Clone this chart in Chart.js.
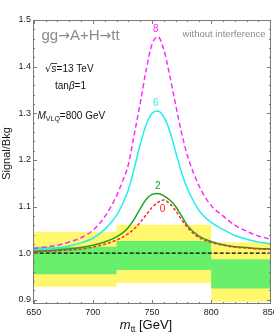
<!DOCTYPE html>
<html><head><meta charset="utf-8">
<script src="https://cdn.jsdelivr.net/npm/chart.js@4.4.1/dist/chart.umd.min.js"></script>
<style>html,body{margin:0;padding:0;background:#fff;}canvas{display:block;}</style>
</head><body>
<canvas id="c" width="274" height="335"></canvas>
<script>
// ---- data ----
const massGeV   = [650,660,670,680,690,700,710,720,725,730,735,740,745,750,755,760,765,770,775,780,790,800,810,820,830,840,850];
const ratioTan0 = [1.003,1.004,1.005,1.007,1.009,1.013,1.019,1.028,1.034,1.042,1.052,1.066,1.082,1.098,1.109,1.114,1.106,1.091,1.072,1.055,1.033,1.023,1.017,1.013,1.011,1.009,1.008];
const ratioTan2 = [1.004,1.005,1.007,1.009,1.012,1.017,1.024,1.035,1.043,1.055,1.073,1.095,1.115,1.126,1.128,1.123,1.114,1.100,1.080,1.059,1.036,1.025,1.018,1.014,1.012,1.010,1.009];
const ratioTan6 = [1.007,1.009,1.011,1.016,1.022,1.032,1.051,1.081,1.105,1.136,1.182,1.233,1.275,1.300,1.305,1.292,1.262,1.217,1.173,1.138,1.091,1.066,1.051,1.038,1.030,1.024,1.020];
const ratioTan8 = [1.010,1.013,1.017,1.024,1.033,1.049,1.078,1.123,1.154,1.190,1.255,1.321,1.392,1.448,1.464,1.436,1.381,1.318,1.258,1.209,1.143,1.102,1.080,1.060,1.047,1.037,1.030];
const curveNames = ['0','2','6','8'];

const binEdges    = [650,720,800,850];
const yellowUpper = [1.046,1.061,1.023];
const greenUpper  = [1.014,1.026,0.987];
const greenLower  = [0.955,0.964,0.924];
const yellowLower = [0.928,0.936,0.896];
const referenceLevel = 1.0;

const xTicks = [650,700,750,800,850];
const yTicks = [0.9,1.0,1.1,1.2,1.3,1.4,1.5];

// ---- helpers ----
const FONT = '"Liberation Sans", Arial, sans-serif';
const SYM = '"DejaVu Sans", sans-serif';
function stepPoints(vals){
  const pts=[];
  vals.forEach((v,i)=>{pts.push({x:binEdges[i],y:v});pts.push({x:binEdges[i+1],y:v});});
  return pts;
}
function curvePoints(vals){ return massGeV.map((m,i)=>({x:m,y:vals[i]})); }

const YELLOW='#fff86c', GREEN='#68f06c';
const curveStyles = [
  {color:'#ff2a2a', dash:[3,2]},
  {color:'#22a022', dash:[]},
  {color:'#22eeee', dash:[]},
  {color:'#ff2aff', dash:[5,3]}
];
const curveSeries=[ratioTan0,ratioTan2,ratioTan6,ratioTan8];
// label anchors (data coordinates)
const labelAnchors=[{x:759,y:1.0944},{x:754.8,y:1.1443},{x:753.1,y:1.321},{x:753.1,y:1.4807}];

const datasets=[
  {data:stepPoints(yellowUpper),fill:'+1',backgroundColor:YELLOW,borderWidth:0,pointRadius:0,order:5},
  {data:stepPoints(yellowLower),fill:false,borderWidth:0,pointRadius:0,order:5},
  {data:stepPoints(greenUpper),fill:'+1',backgroundColor:GREEN,borderWidth:0,pointRadius:0,order:4},
  {data:stepPoints(greenLower),fill:false,borderWidth:0,pointRadius:0,order:4},
  {data:[{x:binEdges[0],y:referenceLevel},{x:binEdges[binEdges.length-1],y:referenceLevel}],borderColor:'#000',borderWidth:1.2,borderDash:[4,2],pointRadius:0,fill:false,order:3}
];
curveSeries.forEach((s,i)=>{
  datasets.push({data:curvePoints(s),borderColor:curveStyles[i].color,borderDash:curveStyles[i].dash,borderWidth:1.5,pointRadius:0,fill:false,cubicInterpolationMode:'monotone',order:1});
});

function richText(ctx,x,y,parts,align){
  let w=0;
  parts.forEach(p=>{ctx.font=p.font;w+=ctx.measureText(p.text).width;});
  let cx = align==='right'? x-w : align==='center'? x-w/2 : x;
  parts.forEach(p=>{
    ctx.font=p.font; ctx.fillStyle=p.color||'#111';
    ctx.fillText(p.text,cx,y+(p.dy||0));
    const pw=ctx.measureText(p.text).width;
    if(p.overline){ctx.strokeStyle=p.color||'#111';ctx.lineWidth=0.8;ctx.beginPath();ctx.moveTo(cx-0.5,y+p.overline+0.5);ctx.lineTo(cx+pw+0.5,y+p.overline+0.5);ctx.stroke();}
    cx+=pw;
  });
}

const framePlugin={
  id:'frame',
  afterDraw(chart){
    const ctx=chart.ctx, a=chart.chartArea, xs=chart.scales.x, ys=chart.scales.y;
    ctx.save();
    ctx.strokeStyle='#7a7a7a'; ctx.lineWidth=1;
    ctx.strokeRect(Math.round(a.left)+0.5,Math.round(a.top)+0.5,Math.round(a.right-a.left)-1,Math.round(a.bottom-a.top)-1);
    ctx.beginPath();
    for(let v=650; v<=850; v+=10){
      const px=Math.round(xs.getPixelForValue(v))+0.5, L=(v%50===0)?4:2;
      ctx.moveTo(px,a.bottom); ctx.lineTo(px,a.bottom-L);
      ctx.moveTo(px,a.top); ctx.lineTo(px,a.top+L);
    }
    for(let k=45;k<=75;k++){
      const v=k/50; const py=Math.round(ys.getPixelForValue(v))+0.5;
      if(py<a.top||py>a.bottom) continue;
      const L=(k%5===0)?4:2;
      ctx.moveTo(a.left,py); ctx.lineTo(a.left+L,py);
      ctx.moveTo(a.right,py); ctx.lineTo(a.right-L,py);
    }
    ctx.stroke();
    // curve labels
    ctx.font='10px '+FONT; ctx.textAlign='center'; ctx.textBaseline='middle';
    labelAnchors.forEach((p,i)=>{
      ctx.fillStyle=curveStyles[i].color;
      ctx.fillText(curveNames[i],xs.getPixelForValue(p.x),ys.getPixelForValue(p.y));
    });
    ctx.textAlign='left'; ctx.textBaseline='alphabetic';
    const g='#8a8a8a';
    richText(ctx,41.5,40,[
      {text:'gg',font:'15px '+FONT,color:g},{text:'\u2192',font:'14px '+SYM,color:g},
      {text:'A+H',font:'15px '+FONT,color:g},{text:'\u2192',font:'14px '+SYM,color:g},
      {text:'tt',font:'15px '+FONT,color:g}]);
    richText(ctx,265.5,37,[{text:'without interference',font:'9.5px '+FONT,color:g}],'right');
    richText(ctx,45,71.5,[{text:'\u221A',font:'10px '+SYM},{text:'s',font:'italic 10.5px '+FONT,overline:-8.5},{text:'=13 TeV',font:'10px '+FONT}]);
    richText(ctx,55,89,[{text:'tan',font:'10px '+FONT},{text:'\u03B2',font:'italic 10px '+FONT},{text:'=1',font:'10px '+FONT}]);
    richText(ctx,37.5,118.5,[{text:'M',font:'italic 10px '+FONT},{text:'VLQ',font:'7px '+FONT,dy:2.5},{text:'=800 GeV',font:'10px '+FONT}]);
    richText(ctx,146,329,[{text:'m',font:'italic 13px '+FONT},{text:'tt',font:'8.5px '+FONT,dy:2.5},{text:' [GeV]',font:'13px '+FONT}],'center');
    ctx.save();
    ctx.translate(9.5,153.5); ctx.rotate(-Math.PI/2);
    richText(ctx,0,0,[{text:'Signal/Bkg',font:'11px '+FONT}],'center');
    ctx.restore();
    ctx.restore();
  }
};

new Chart(document.getElementById('c'),{
  type:'line',
  data:{datasets},
  options:{
    responsive:false, animation:false, devicePixelRatio:1,
    layout:{padding:{top:20,right:3,left:0,bottom:0}},
    plugins:{legend:{display:false},tooltip:{enabled:false},title:{display:false}},
    elements:{line:{tension:0}},
    scales:{
      x:{type:'linear',min:649.4,max:850.6,
        grid:{display:false,drawTicks:false},border:{display:false},
        afterBuildTicks(s){s.ticks=xTicks.map(v=>({value:v}));},
        afterFit(s){s.height=31;s.paddingLeft=0;s.paddingRight=0;},
        ticks:{padding:3,maxRotation:0,autoSkip:false,color:'#222',font:{size:9,family:FONT},callback:v=>String(v)}},
      y:{type:'linear',min:0.891,max:1.5,
        grid:{display:false,drawTicks:false},border:{display:false},
        afterBuildTicks(s){s.ticks=yTicks.map(v=>({value:v}));},
        afterFit(s){s.width=33;s.paddingTop=0;s.paddingBottom=0;},
        ticks:{padding:2,autoSkip:false,color:'#222',font:{size:9,family:FONT},callback:v=>Number(v).toFixed(1)}}
    }
  },
  plugins:[framePlugin]
});
</script>
</body></html>
